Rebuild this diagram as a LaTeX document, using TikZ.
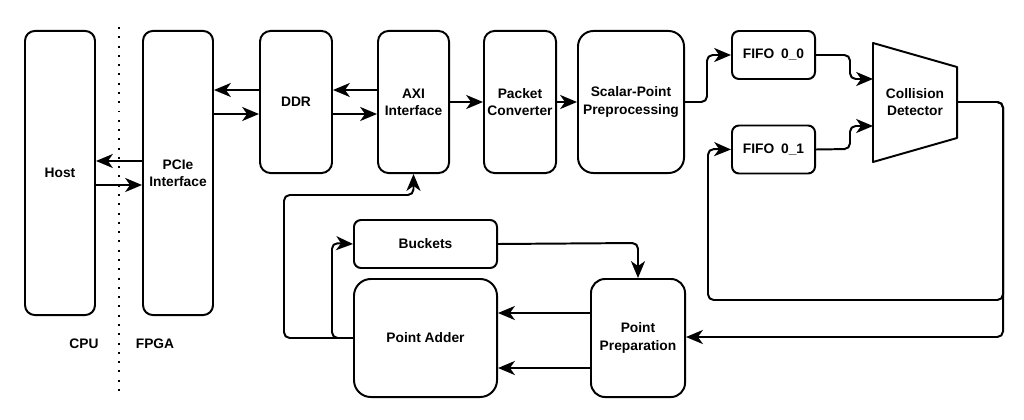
\documentclass[tikz,border=0pt]{standalone}
\usepackage{fontspec}
\setmainfont{Liberation Sans}
\usetikzlibrary{arrows.meta}

\begin{document}
\begin{tikzpicture}[x=0.025cm,y=-0.025cm,
  blk/.style={draw, line width=1.4pt, align=center, inner sep=0pt,
    font=\bfseries\fontsize{9.8}{12.3}\selectfont},
  lbl/.style={align=center, font=\bfseries\fontsize{9.8}{12.3}\selectfont},
  arr/.style={line width=1.4pt, rounded corners=4pt,
    -{Stealth[length=12pt,width=10pt,inset=3.5pt]}}]

\useasboundingbox (0,0) rectangle (1024,420);

% CPU / FPGA split
\draw[line width=1.4pt, dash pattern=on 1.4pt off 5.2pt] (119,27) -- (119,397);
\node[lbl] (cpu) at (84,344) {CPU};
\node[lbl] (fpga) at (155,344) {FPGA};

% top row
\node[blk, rounded corners=7pt, minimum width=1.75cm, minimum height=7.1cm] (host) at (60,173) {Host};
\node[blk, rounded corners=7pt, minimum width=1.75cm, minimum height=7.1cm] (pcie) at (178,173) {PCIe\\Interface};
\node[blk, rounded corners=7.5pt, minimum width=1.8cm, minimum height=3.55cm] (ddr) at (296,102) {DDR};
\node[blk, rounded corners=7.5pt, minimum width=1.775cm, minimum height=3.55cm] (axi) at (413.5,102) {AXI\\Interface};
\node[blk, rounded corners=7.5pt, minimum width=1.8cm, minimum height=3.55cm] (pack) at (520,102) {Packet\\Converter};
\node[blk, rounded corners=11pt, minimum width=2.65cm, minimum height=3.55cm] (scalar) at (631,102) {Scalar-Point\\Preprocessing};
\node[blk, rounded corners=5pt, minimum width=2.075cm, minimum height=1.2cm] (fifo0) at (773.5,55) {FIFO\enspace 0\_0};
\node[blk, rounded corners=5pt, minimum width=2.075cm, minimum height=1.2cm] (fifo1) at (773.5,149.5) {FIFO\enspace 0\_1};

% collision detector
\draw[line width=1.4pt, line join=round] (873,43) -- (957,67) -- (957,138) -- (873,162) -- cycle;
\node[lbl] (cd) at (915,102) {Collision\\Detector};
\coordinate (cdin0) at (873,79);
\coordinate (cdin1) at (873,126);
\coordinate (cdout) at (957,102);

% bottom row
\node[blk, rounded corners=5pt, minimum width=3.575cm, minimum height=1.2cm] (buckets) at (425.5,244) {Buckets};
\node[blk, rounded corners=12pt, minimum width=3.575cm, minimum height=2.95cm] (adder) at (425.5,338) {Point Adder};
\node[blk, rounded corners=10pt, minimum width=2.35cm, minimum height=2.95cm] (prep) at (638,338) {Point\\Preparation};

% connectors
\draw[arr] (pcie.west |- 0,161) -- (host.east |- 0,161);
\draw[arr] (host.east |- 0,185) -- (pcie.west |- 0,185);
\draw[arr] (ddr.west |- 0,90) -- (pcie.east |- 0,90);
\draw[arr] (pcie.east |- 0,114) -- (ddr.west |- 0,114);
\draw[arr] (axi.west |- 0,90) -- (ddr.east |- 0,90);
\draw[arr] (ddr.east |- 0,114) -- (axi.west |- 0,114);
\draw[arr] (axi) -- (pack);
\draw[arr] (pack) -- (scalar);
\draw[arr] (scalar.east) -- (707,102) -- (707,55) -- (fifo0.west);
\draw[arr] (fifo0.east) -- (850,55) -- (850,79) -- (cdin0);
\draw[arr] (fifo1.east) -- (850,149) -- (850,126) -- (cdin1);
\draw[arr] (cdout) -- (1003,102) -- (1003,300) -- (708,300) -- (708,149) -- (fifo1.west);
\draw[arr] (cdout) -- (1003,102) -- (1003,337) -- (prep.east |- 0,337);
\draw[arr] (buckets.east) -- (638,243) -- (prep.north);
\draw[arr] (prep.west |- 0,313) -- (adder.east |- 0,313);
\draw[arr] (prep.west |- 0,368) -- (adder.east |- 0,368);
\draw[arr] (adder.west |- 0,338) -- (332,338) -- (332,243) -- (buckets.west);
\draw[arr] (adder.west |- 0,338) -- (284,338) -- (284,195) -- (413.5,195) -- (axi.south);
\end{tikzpicture}
\end{document}
